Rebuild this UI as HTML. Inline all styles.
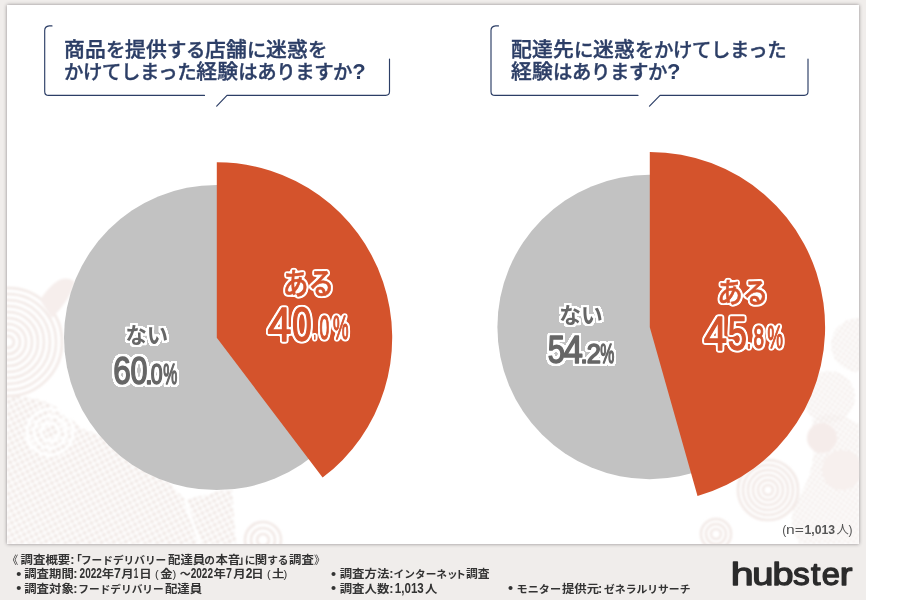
<!DOCTYPE html>
<html lang="ja">
<head>
<meta charset="utf-8">
<title>フードデリバリー配達員の本音に関する調査</title>
<style>
html,body{margin:0;padding:0;background:#fff;}
body{width:900px;height:600px;overflow:hidden;position:relative;font-family:"Liberation Sans","Noto Sans CJK JP",sans-serif;}
#stage{position:absolute;left:0;top:0;width:866px;height:600px;background:#f0edeb;}
#card{position:absolute;left:7px;top:5px;width:852.2px;height:539px;background:#fff;box-shadow:0 0 3.5px rgba(20,10,20,.45);overflow:hidden;}
svg{position:absolute;left:0;top:0;}
.q{position:absolute;color:#2c3e66;font-size:20.8px;letter-spacing:0.2px;line-height:22.3px;font-weight:500;white-space:nowrap;-webkit-text-stroke:0.4px #2c3e66;}
.q i{font-style:normal;font-size:19.4px;letter-spacing:-0.4px;}
.q b{font-weight:700;font-size:22px;letter-spacing:0;-webkit-text-stroke:0;}
</style>
</head>
<body>
<div id="stage">
<div id="card"></div>
<svg width="866" height="600" viewBox="0 0 866 600">
  <defs>
    <filter id="olg" x="-20%" y="-20%" width="140%" height="140%" color-interpolation-filters="sRGB">
      <feMorphology in="SourceAlpha" operator="dilate" radius="2" result="d"/>
      <feGaussianBlur in="d" stdDeviation="0.6" result="b"/>
      <feComponentTransfer in="b" result="t"><feFuncA type="linear" slope="4" intercept="-0.6"/></feComponentTransfer>
      <feFlood flood-color="#fff"/>
      <feComposite in2="t" operator="in" result="o"/>
      <feMerge><feMergeNode in="o"/><feMergeNode in="SourceGraphic"/></feMerge>
    </filter>
    <filter id="olr" x="-20%" y="-20%" width="140%" height="140%" color-interpolation-filters="sRGB">
      <feMorphology in="SourceAlpha" operator="dilate" radius="1" result="d"/>
      <feGaussianBlur in="d" stdDeviation="1.0" result="b"/>
      <feComponentTransfer in="b" result="t"><feFuncA type="linear" slope="5" intercept="-0.6"/></feComponentTransfer>
      <feFlood flood-color="#fff"/>
      <feComposite in2="t" operator="in" result="o"/>
      <feMerge><feMergeNode in="o"/><feMergeNode in="SourceGraphic"/></feMerge>
    </filter>
  </defs>
  <defs>
    <pattern id="dt" width="5.4" height="5.4" patternUnits="userSpaceOnUse" patternTransform="rotate(-28)"><rect x="0.7" y="0.7" width="3.9" height="3.9" rx="1.3" fill="#f0e8e5"/></pattern>
    <pattern id="dt2" width="4" height="4" patternUnits="userSpaceOnUse" patternTransform="rotate(35)"><circle cx="2" cy="2" r="1.45" fill="#f0e8e5"/></pattern>
    <filter id="soft" x="0" y="0" width="866" height="600" filterUnits="userSpaceOnUse"><feGaussianBlur stdDeviation="0.8"/></filter>
    <clipPath id="cc"><rect x="7" y="5" width="852.2" height="539"/></clipPath>
  </defs>
  <g clip-path="url(#cc)">
  <g filter="url(#soft)">
    <g fill="none" stroke="#f2e9e6" stroke-width="2.6">
      <circle cx="8" cy="342" r="6"/><circle cx="8" cy="342" r="12"/><circle cx="8" cy="342" r="18"/><circle cx="8" cy="342" r="24"/><circle cx="8" cy="342" r="30"/><circle cx="8" cy="342" r="36"/><circle cx="8" cy="342" r="42"/><circle cx="8" cy="342" r="48"/><circle cx="8" cy="342" r="54"/>
      <circle cx="768" cy="490" r="5"/><circle cx="768" cy="490" r="10"/><circle cx="768" cy="490" r="15"/><circle cx="768" cy="490" r="20"/><circle cx="768" cy="490" r="25"/><circle cx="768" cy="490" r="30"/>
      <circle cx="263" cy="540" r="6"/><circle cx="263" cy="540" r="12"/><circle cx="263" cy="540" r="18"/>
      <circle cx="716" cy="534" r="5"/><circle cx="716" cy="534" r="10"/><circle cx="716" cy="534" r="15"/>
    </g>
    <path d="M7 396 C40 396 60 404 80 428 C120 440 160 470 185 500 L232 488 L236 544 L7 544 Z" fill="url(#dt)"/>
    <g fill="none" stroke="#fff" stroke-width="3"><circle cx="50" cy="432" r="9"/><circle cx="50" cy="432" r="16"/><circle cx="50" cy="432" r="23"/><path d="M185 500 L200 544"/></g>
    <path d="M40 300 Q60 270 75 282 Q70 300 52 318 Z" fill="#f6eeec"/>
    <circle cx="858" cy="345" r="27" fill="url(#dt2)"/>
    <circle cx="829" cy="397" r="26" fill="url(#dt2)"/>
    <path d="M812 420 q22 -12 47 4 L859 544 L800 544 q-14 -20 -4 -44 q24 -30 16 -80Z" fill="url(#dt2)"/>
    <circle cx="822" cy="438" r="15" fill="#f5ecea"/>
    <circle cx="842" cy="470" r="20" fill="#f7f0ee"/>
  </g>
  </g>
  <circle cx="216.6" cy="337.5" r="152.6" fill="#c2c2c2"/>
  <path d="M216.8 337.7 L216.8 162.29999999999998 A175.4 175.4 0 0 1 322.60 477.60 Z" fill="#d4532c"/>
  <circle cx="649.6" cy="327" r="152.2" fill="#c2c2c2"/>
  <path d="M649.8 327.2 L649.8 151.89999999999998 A175.3 175.3 0 0 1 697.53 495.88 Z" fill="#d4532c"/>
  <g fill="none" stroke="#2c3e66" stroke-width="1.15" stroke-linecap="round" stroke-linejoin="round">
    <path d="M52 25.9 L49.2 25.9 Q44.7 26.4 44.7 30.4 L44.7 91.4 Q44.7 95.4 48.7 95.4 L204.5 95.4"/>
    <path d="M216.7 106.2 L227 95.4 L385.7 95.4 Q389.5 95.4 389.5 91.6 L389.5 59"/>
    <path d="M498.5 25.9 L495.6 25.9 Q491 26.4 491 30.4 L491 91.4 Q491 95.4 495 95.4 L638 95.4"/>
    <path d="M649.5 106.2 L660 95.4 L804.2 95.4 Q808 95.4 808 91.6 L808 59"/>
  </g>
  <g>
    <text x="125.51" y="343.49" font-family="'Liberation Sans','Noto Sans CJK JP',sans-serif" font-weight="700" font-size="22.08" textLength="42.73" lengthAdjust="spacingAndGlyphs" fill="#666666" filter="url(#olg)">ない</text>
    <text font-family="'Liberation Sans',sans-serif" font-weight="400" fill="#666666" stroke="#666666" stroke-width="1.5" stroke-linejoin="round" filter="url(#olg)"><tspan x="113.19" y="384.31" font-size="38.98" textLength="17.60" lengthAdjust="spacingAndGlyphs">6</tspan><tspan x="130.51" y="384.31" font-size="38.98" textLength="16.99" lengthAdjust="spacingAndGlyphs">0</tspan><tspan x="144.91" y="384.41" font-size="28.95" textLength="7.88" lengthAdjust="spacingAndGlyphs">.</tspan><tspan x="150.87" y="384.41" font-size="28.95" textLength="11.87" lengthAdjust="spacingAndGlyphs">0</tspan><tspan x="163.14" y="384.41" font-size="28.95" textLength="14.02" lengthAdjust="spacingAndGlyphs">%</tspan></text>
    <text x="282.80" y="294.46" font-family="'Liberation Sans','Noto Sans CJK JP',sans-serif" font-weight="500" font-size="29.21" textLength="51.44" lengthAdjust="spacingAndGlyphs" fill="#d4532c" stroke="#d4532c" stroke-width="0.6" stroke-linejoin="round" filter="url(#olr)">ある</text>
    <text font-family="'Liberation Sans',sans-serif" font-weight="400" fill="#d4532c" stroke="#d4532c" stroke-width="1.3" stroke-linejoin="round" filter="url(#olr)"><tspan x="267.51" y="340.63" font-size="47.32" textLength="23.95" lengthAdjust="spacingAndGlyphs">4</tspan><tspan x="292.11" y="340.63" font-size="47.32" textLength="19.78" lengthAdjust="spacingAndGlyphs">0</tspan><tspan x="313.34" y="338.67" font-size="33.05" textLength="2.92" lengthAdjust="spacingAndGlyphs">.</tspan><tspan x="319.51" y="338.67" font-size="33.05" textLength="9.77" lengthAdjust="spacingAndGlyphs">0</tspan><tspan x="332.88" y="338.67" font-size="33.05" textLength="15.55" lengthAdjust="spacingAndGlyphs">%</tspan></text>
    <text x="559.19" y="323.49" font-family="'Liberation Sans','Noto Sans CJK JP',sans-serif" font-weight="700" font-size="22.08" textLength="43.47" lengthAdjust="spacingAndGlyphs" fill="#666666" filter="url(#olg)">ない</text>
    <text font-family="'Liberation Sans',sans-serif" font-weight="400" fill="#666666" stroke="#666666" stroke-width="1.5" stroke-linejoin="round" filter="url(#olg)"><tspan x="547.66" y="362.91" font-size="38.84" textLength="17.24" lengthAdjust="spacingAndGlyphs">5</tspan><tspan x="563.19" y="362.91" font-size="38.84" textLength="19.65" lengthAdjust="spacingAndGlyphs">4</tspan><tspan x="580.21" y="363.02" font-size="27.54" textLength="7.59" lengthAdjust="spacingAndGlyphs">.</tspan><tspan x="586.72" y="363.02" font-size="27.54" textLength="14.16" lengthAdjust="spacingAndGlyphs">2</tspan><tspan x="600.34" y="363.02" font-size="27.54" textLength="14.02" lengthAdjust="spacingAndGlyphs">%</tspan></text>
    <text x="717.22" y="303.22" font-family="'Liberation Sans','Noto Sans CJK JP',sans-serif" font-weight="500" font-size="28.27" textLength="51.10" lengthAdjust="spacingAndGlyphs" fill="#d4532c" stroke="#d4532c" stroke-width="0.6" stroke-linejoin="round" filter="url(#olr)">ある</text>
    <text font-family="'Liberation Sans',sans-serif" font-weight="400" fill="#d4532c" stroke="#d4532c" stroke-width="1.3" stroke-linejoin="round" filter="url(#olr)"><tspan x="703.63" y="349.61" font-size="48.87" textLength="23.40" lengthAdjust="spacingAndGlyphs">4</tspan><tspan x="727.72" y="349.61" font-size="48.87" textLength="19.24" lengthAdjust="spacingAndGlyphs">5</tspan><tspan x="746.86" y="347.58" font-size="32.20" textLength="4.38" lengthAdjust="spacingAndGlyphs">.</tspan><tspan x="753.38" y="347.58" font-size="32.20" textLength="10.55" lengthAdjust="spacingAndGlyphs">8</tspan><tspan x="767.48" y="347.58" font-size="32.20" textLength="15.44" lengthAdjust="spacingAndGlyphs">%</tspan></text>
  </g>
  <g font-family="'Liberation Sans','Noto Sans CJK JP',sans-serif">
  <text y="563.5" fill="#333" font-weight="700" ><tspan x="7.08" font-size="11.2" font-weight="400">《</tspan><tspan x="20.63" font-size="11.2" textLength="49.60" lengthAdjust="spacingAndGlyphs">調査概要</tspan><tspan x="70.37" font-size="12.4" font-weight="700" textLength="4.26" lengthAdjust="spacingAndGlyphs">:</tspan><tspan x="70.73" font-size="11.2">「</tspan><tspan x="80.91" font-size="10.4" textLength="85.36" lengthAdjust="spacingAndGlyphs">フードデリバリー</tspan><tspan x="168.08" font-size="11.2" textLength="37.20" lengthAdjust="spacingAndGlyphs">配達員</tspan><tspan x="204.32" font-size="10.4" textLength="10.67" lengthAdjust="spacingAndGlyphs">の</tspan><tspan x="215.46" font-size="11.2" textLength="24.80" lengthAdjust="spacingAndGlyphs">本音</tspan><tspan x="238.49" font-size="11.2">」</tspan><tspan x="244.81" font-size="10.4" textLength="10.67" lengthAdjust="spacingAndGlyphs">に</tspan><tspan x="254.72" font-size="11.2" textLength="12.40" lengthAdjust="spacingAndGlyphs">関</tspan><tspan x="267.16" font-size="10.4" textLength="21.34" lengthAdjust="spacingAndGlyphs">する</tspan><tspan x="289.03" font-size="11.2" textLength="24.80" lengthAdjust="spacingAndGlyphs">調査</tspan><tspan x="313.90" font-size="11.2" font-weight="400">》</tspan></text>
  <text y="578.4" fill="#333" font-weight="700" ><tspan x="11.52" dy="1.2" font-size="14.56" font-weight="900">・</tspan><tspan dy="-1.2" font-size="1"> </tspan><tspan x="24.23" font-size="11.2" textLength="49.60" lengthAdjust="spacingAndGlyphs">調査期間</tspan><tspan x="73.37" font-size="12.4" font-weight="700" textLength="4.26" lengthAdjust="spacingAndGlyphs">:</tspan><tspan x="79.55" font-size="13.8" font-weight="700" textLength="22.35" lengthAdjust="spacingAndGlyphs">2022</tspan><tspan x="101.74" font-size="11.2" textLength="12.40" lengthAdjust="spacingAndGlyphs">年</tspan><tspan x="113.97" font-size="13.8" font-weight="700" textLength="6.87" lengthAdjust="spacingAndGlyphs">7</tspan><tspan x="121.34" font-size="11.2" textLength="12.40" lengthAdjust="spacingAndGlyphs">月</tspan><tspan x="133.69" font-size="13.8" font-weight="700" textLength="4.54" lengthAdjust="spacingAndGlyphs">1</tspan><tspan x="139.29" font-size="11.2" textLength="12.40" lengthAdjust="spacingAndGlyphs">日</tspan><tspan x="155.10" font-size="11.2" font-weight="500">(</tspan><tspan x="160.33" font-size="11.2" textLength="12.40" lengthAdjust="spacingAndGlyphs">金</tspan><tspan x="172.48" font-size="11.2" font-weight="500">)</tspan><tspan x="179.69" font-size="11.0">〜</tspan><tspan x="190.65" font-size="13.8" font-weight="700" textLength="22.35" lengthAdjust="spacingAndGlyphs">2022</tspan><tspan x="213.54" font-size="11.2" textLength="12.40" lengthAdjust="spacingAndGlyphs">年</tspan><tspan x="226.04" font-size="13.8" font-weight="700" textLength="5.93" lengthAdjust="spacingAndGlyphs">7</tspan><tspan x="233.24" font-size="11.2" textLength="12.40" lengthAdjust="spacingAndGlyphs">月</tspan><tspan x="245.68" font-size="13.8" font-weight="700" textLength="6.70" lengthAdjust="spacingAndGlyphs">2</tspan><tspan x="251.29" font-size="11.2" textLength="12.40" lengthAdjust="spacingAndGlyphs">日</tspan><tspan x="267.10" font-size="11.2" font-weight="500">(</tspan><tspan x="272.03" font-size="11.2" textLength="12.40" lengthAdjust="spacingAndGlyphs">土</tspan><tspan x="283.58" font-size="11.2" font-weight="500">)</tspan></text>
  <text y="592.5" fill="#333" font-weight="700" ><tspan x="11.52" dy="1.2" font-size="14.56" font-weight="900">・</tspan><tspan dy="-1.2" font-size="1"> </tspan><tspan x="24.23" font-size="11.2" textLength="49.60" lengthAdjust="spacingAndGlyphs">調査対象</tspan><tspan x="73.37" font-size="12.4" font-weight="700" textLength="4.26" lengthAdjust="spacingAndGlyphs">:</tspan><tspan x="78.31" font-size="10.4" textLength="85.36" lengthAdjust="spacingAndGlyphs">フードデリバリー</tspan><tspan x="164.98" font-size="11.2" textLength="37.20" lengthAdjust="spacingAndGlyphs">配達員</tspan></text>
  <text y="578.4" fill="#333" font-weight="700" ><tspan x="326.22" dy="1.2" font-size="14.56" font-weight="900">・</tspan><tspan dy="-1.2" font-size="1"> </tspan><tspan x="339.73" font-size="11.2" textLength="49.60" lengthAdjust="spacingAndGlyphs">調査方法</tspan><tspan x="389.37" font-size="12.4" font-weight="700" textLength="4.26" lengthAdjust="spacingAndGlyphs">:</tspan><tspan x="393.64" font-size="10.4" textLength="64.02" lengthAdjust="spacingAndGlyphs">インターネッ</tspan><tspan x="455.36" font-size="10.4" textLength="10.67" lengthAdjust="spacingAndGlyphs">ト</tspan><tspan x="465.95" font-size="11.2" textLength="23.60" lengthAdjust="spacingAndGlyphs">調査</tspan></text>
  <text y="592.5" fill="#333" font-weight="700" ><tspan x="326.22" dy="1.2" font-size="14.56" font-weight="900">・</tspan><tspan dy="-1.2" font-size="1"> </tspan><tspan x="339.73" font-size="11.2" textLength="49.60" lengthAdjust="spacingAndGlyphs">調査人数</tspan><tspan x="389.37" font-size="12.4" font-weight="700" textLength="4.26" lengthAdjust="spacingAndGlyphs">:</tspan><tspan x="394.87" font-size="13.8" font-weight="700" textLength="28.95" lengthAdjust="spacingAndGlyphs">1,013</tspan><tspan x="425.13" font-size="11.2" textLength="12.40" lengthAdjust="spacingAndGlyphs">人</tspan></text>
  <text y="592.5" fill="#333" font-weight="700" ><tspan x="503.22" dy="1.2" font-size="14.56" font-weight="900">・</tspan><tspan dy="-1.2" font-size="1"> </tspan><tspan x="516.62" font-size="10.4" textLength="44.40" lengthAdjust="spacingAndGlyphs">モニター</tspan><tspan x="561.91" font-size="11.2" textLength="37.20" lengthAdjust="spacingAndGlyphs">提供元</tspan><tspan x="597.97" font-size="12.4" font-weight="700" textLength="4.26" lengthAdjust="spacingAndGlyphs">:</tspan><tspan x="604.04" font-size="10.4" textLength="86.40" lengthAdjust="spacingAndGlyphs">ゼネラルリサーチ</tspan></text>
  <text y="533.6" fill="#555" font-weight="400" ><tspan x="782.20" font-size="12" font-weight="400">(</tspan><tspan x="785.96" font-size="12.5" font-weight="400" textLength="17.81" lengthAdjust="spacingAndGlyphs">n=</tspan><tspan x="804.53" font-size="12.6" font-weight="700" textLength="30.51" lengthAdjust="spacingAndGlyphs">1,013</tspan><tspan x="836.43" font-size="12" textLength="12.40" lengthAdjust="spacingAndGlyphs">人</tspan><tspan x="848.50" font-size="12" font-weight="400">)</tspan></text>
  </g>
  <text y="584.6" font-family="'Liberation Sans',sans-serif" font-weight="400" font-size="31.6" fill="#2b2b2b" stroke="#2b2b2b" stroke-width="1.3" stroke-linejoin="round"><tspan x="730.79" textLength="22.94" lengthAdjust="spacingAndGlyphs">h</tspan><tspan x="752.37" textLength="21.21" lengthAdjust="spacingAndGlyphs">u</tspan><tspan x="772.41" textLength="21.02" lengthAdjust="spacingAndGlyphs">b</tspan><tspan x="793.02" textLength="16.74" lengthAdjust="spacingAndGlyphs">s</tspan><tspan x="810.93" textLength="9.47" lengthAdjust="spacingAndGlyphs">t</tspan><tspan x="821.76" textLength="18.25" lengthAdjust="spacingAndGlyphs">e</tspan><tspan x="839.83" textLength="12.65" lengthAdjust="spacingAndGlyphs">r</tspan></text>
</svg>
<div class="q" style="left:64px;top:39px;">商品<i>を</i>提供<i>する</i>店舗<i>に</i>迷惑<i>を</i><br><i>かけてしまった</i>経験<i>はありますか</i><b>?</b></div>
<div class="q" style="left:511px;top:39px;">配達先<i>に</i>迷惑<i>をかけてしまった</i><br>経験<i>はありますか</i><b>?</b></div>
</div>
</body>
</html>
